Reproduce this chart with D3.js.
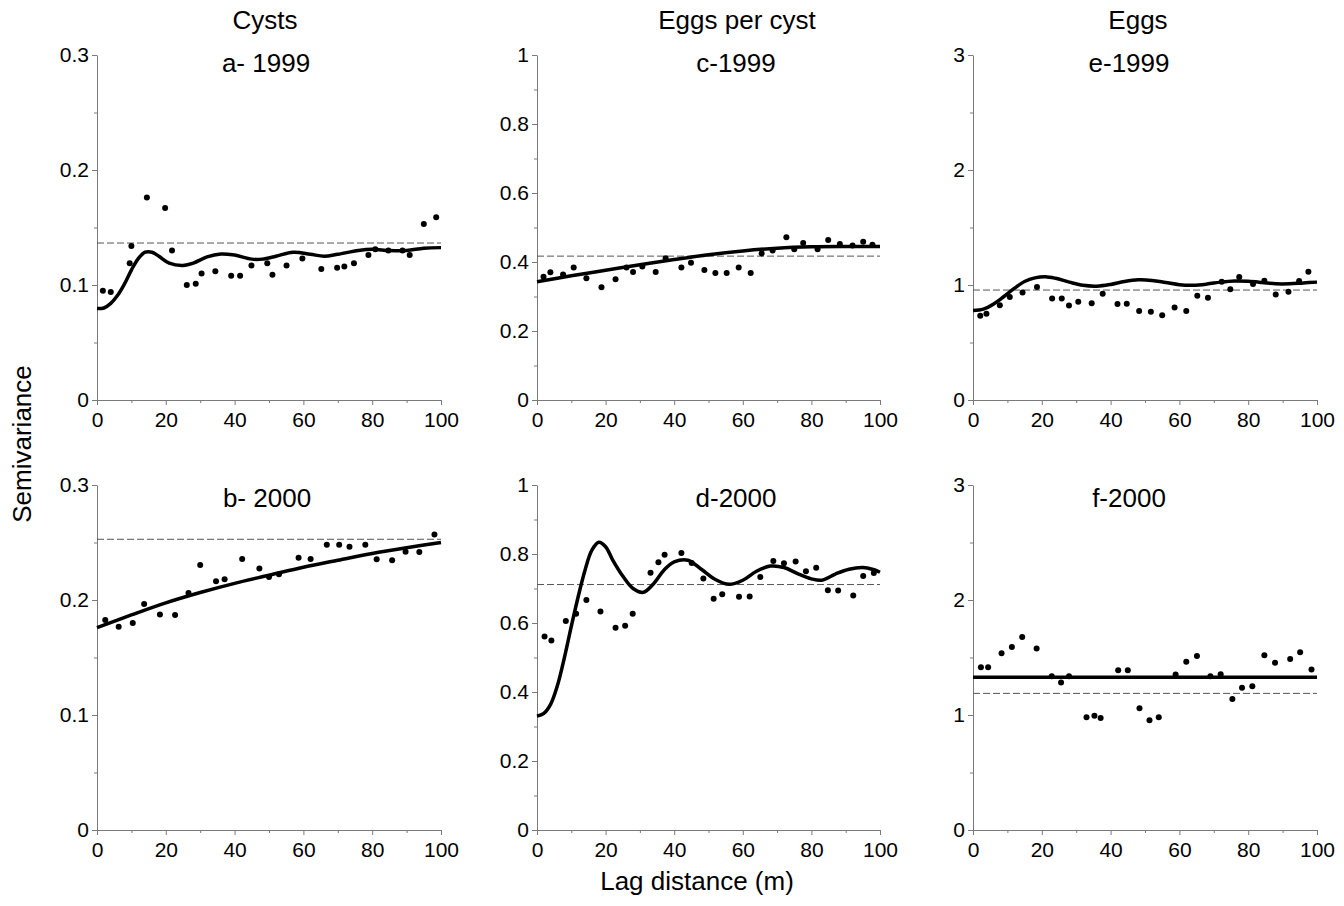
<!DOCTYPE html>
<html>
<head>
<meta charset="utf-8">
<script src="https://cdn.jsdelivr.net/npm/d3@7"></script>
<style>
  html, body { margin: 0; padding: 0; background: #fff; }
  svg { display: block; }
  text { font-family: "Liberation Sans", Arial, Helvetica, sans-serif; fill: #000; }
</style>
</head>
<body>
<div id="chart"></div>
<script>
// ---------------- DATA ----------------
const columnTitles = ["Cysts", "Eggs per cyst", "Eggs"];
const panelTitles = ["a- 1999", "b- 2000", "c-1999", "d-2000", "e-1999", "f-2000"];
const xTicks = [0, 20, 40, 60, 80, 100];
const xMinorTicks = [10, 30, 50, 70, 90];
const yTicksCysts = [0, 0.1, 0.2, 0.3];
const yMinorCysts = [0.05, 0.15, 0.25];
const yTicksEpc = [0, 0.2, 0.4, 0.6, 0.8, 1];
const yMinorEpc = [0.1, 0.3, 0.5, 0.7, 0.9];
const yTicksEggs = [0, 1, 2, 3];
const yMinorEggs = [0.5, 1.5, 2.5];

// a - Cysts 1999
const lagA = [1.7,4.0,9.5,10.0,14.5,19.8,21.8,26.1,28.7,30.4,34.4,39.0,41.6,44.9,49.5,51.0,55.1,59.7,65.2,69.8,71.9,74.7,78.9,80.9,84.7,88.8,90.9,95.0,98.6];
const gamA = [0.095,0.094,0.119,0.134,0.176,0.167,0.130,0.100,0.101,0.110,0.112,0.108,0.108,0.117,0.119,0.109,0.117,0.123,0.114,0.115,0.116,0.119,0.126,0.131,0.130,0.130,0.126,0.153,0.159];
const fitLagA = [0,2,4,6,8,10,12,14,16,18,21,25,28,32,36,40,45,48,52,57,62,66,70,76,80,85,90,95,100];
const fitA = [0.0795,0.080,0.084,0.091,0.101,0.113,0.123,0.1285,0.1285,0.125,0.119,0.117,0.119,0.1245,0.127,0.126,0.1225,0.1225,0.125,0.1285,0.1268,0.125,0.1267,0.130,0.131,0.130,0.130,0.132,0.1325];
const sillA = 0.1365;

// b - Cysts 2000
const lagB = [2.4,6.3,10.4,13.7,18.3,22.7,26.6,30.0,34.6,37.1,42.2,47.2,50.0,52.9,58.6,62.1,66.8,70.4,73.4,78.0,81.3,85.8,89.7,93.7,98.1];
const gamB = [0.1826,0.1768,0.180,0.1965,0.1875,0.187,0.206,0.2304,0.2162,0.218,0.2357,0.2275,0.220,0.2223,0.2368,0.2357,0.248,0.248,0.2464,0.248,0.2354,0.2345,0.242,0.2417,0.257];
const fitLagB = [0,10,20,30,40,50,60,70,80,90,100];
const fitB = [0.176,0.187,0.1975,0.2065,0.2145,0.2215,0.2285,0.2345,0.2405,0.2455,0.250];
const sillB = 0.2528;

// c - Eggs per cyst 1999
const lagC = [1.9,3.9,7.6,10.7,14.4,18.8,22.9,26.1,28.0,30.7,34.6,37.5,42.1,44.9,48.8,52.0,55.3,58.8,62.3,65.5,68.7,72.7,75.0,77.6,81.8,84.9,88.3,92.0,95.1,97.8];
const gamC = [0.357,0.370,0.364,0.384,0.353,0.327,0.350,0.384,0.371,0.387,0.371,0.411,0.384,0.398,0.377,0.368,0.368,0.384,0.368,0.425,0.433,0.472,0.437,0.455,0.437,0.464,0.452,0.448,0.459,0.450];
const fitLagC = [0,10,20,30,40,50,60,70,80,90,100];
const fitC = [0.343,0.360,0.376,0.392,0.407,0.421,0.432,0.440,0.444,0.445,0.445];
const sillC = 0.417;

// d - Eggs per cyst 2000
const lagD = [2.2,4.2,8.4,11.4,14.4,18.5,22.9,25.7,27.9,33.1,35.4,37.2,42.1,45.1,48.5,51.5,54.0,58.9,62.0,65.1,68.9,72.0,75.4,78.4,81.4,84.8,87.8,92.2,95.1,98.2];
const gamD = [0.561,0.549,0.606,0.627,0.667,0.633,0.586,0.592,0.627,0.746,0.776,0.798,0.803,0.774,0.729,0.670,0.683,0.676,0.677,0.733,0.780,0.773,0.778,0.750,0.760,0.695,0.694,0.680,0.736,0.745];
const fitLagD = [0,2,4,6,8,10,12,14,16,18,20,22,25,28,31,34,37,40,44,48,52,56,60,64,68,72,76,80,83,87,91,95,98,100];
const fitD = [0.330,0.338,0.365,0.420,0.500,0.590,0.676,0.753,0.811,0.834,0.821,0.784,0.736,0.700,0.689,0.714,0.753,0.777,0.782,0.755,0.726,0.712,0.724,0.750,0.765,0.761,0.743,0.728,0.724,0.742,0.756,0.761,0.755,0.747];
const sillD = 0.7115;

// e - Eggs 1999
const lagE = [2.1,3.9,7.8,10.7,14.4,18.6,23.0,25.8,27.9,30.6,34.5,37.7,42.0,44.7,48.3,51.7,55.0,58.6,62.0,65.2,68.3,72.3,74.8,77.4,81.4,84.7,88.0,91.7,94.8,97.5];
const gamE = [0.732,0.749,0.825,0.895,0.935,0.982,0.883,0.883,0.822,0.854,0.842,0.924,0.834,0.836,0.775,0.767,0.738,0.805,0.775,0.906,0.889,1.028,0.964,1.069,1.008,1.037,0.918,0.941,1.034,1.115];
const fitLagE = [0,3,6,9,12,15,18,21,24,28,32,36,40,44,48,52,56,60,64,68,72,76,80,84,88,92,96,100];
const fitE = [0.778,0.790,0.835,0.900,0.970,1.030,1.062,1.072,1.058,1.025,0.997,0.990,1.005,1.030,1.045,1.040,1.022,1.003,0.998,1.008,1.025,1.035,1.032,1.022,1.010,1.010,1.018,1.025];
const sillE = 0.956;

// f - Eggs 2000
const lagF = [2.3,4.4,8.3,11.3,14.3,18.5,22.9,25.6,27.9,33.0,35.3,37.1,42.2,45.0,48.4,51.3,54.0,58.9,62.0,65.1,69.0,72.0,75.4,78.2,81.2,84.7,87.8,92.2,95.1,98.4];
const gamF = [1.416,1.416,1.538,1.592,1.679,1.578,1.338,1.283,1.338,0.980,0.994,0.974,1.390,1.390,1.058,0.954,0.980,1.353,1.462,1.514,1.338,1.355,1.139,1.237,1.251,1.520,1.454,1.486,1.546,1.396];
const fitLagF = [0,100];
const fitF = [1.329,1.329];
const sillF = 1.188;

// ---------------- LAYOUT ----------------
const W = 1344, H = 906;
const colX = [[97, 441], [537, 880], [973, 1317]];
const rowY = [[400, 55], [830, 485]];

const panels = [
  {col:0,row:0,title:panelTitles[0],tx:266,lag:lagA,gam:gamA,fx:fitLagA,fy:fitA,sill:sillA,ymax:0.3,yt:yTicksCysts,ym:yMinorCysts},
  {col:0,row:1,title:panelTitles[1],tx:267,lag:lagB,gam:gamB,fx:fitLagB,fy:fitB,sill:sillB,ymax:0.3,yt:yTicksCysts,ym:yMinorCysts},
  {col:1,row:0,title:panelTitles[2],tx:736,lag:lagC,gam:gamC,fx:fitLagC,fy:fitC,sill:sillC,ymax:1,yt:yTicksEpc,ym:yMinorEpc},
  {col:1,row:1,title:panelTitles[3],tx:736,lag:lagD,gam:gamD,fx:fitLagD,fy:fitD,sill:sillD,ymax:1,yt:yTicksEpc,ym:yMinorEpc},
  {col:2,row:0,title:panelTitles[4],tx:1129,lag:lagE,gam:gamE,fx:fitLagE,fy:fitE,sill:sillE,ymax:3,yt:yTicksEggs,ym:yMinorEggs},
  {col:2,row:1,title:panelTitles[5],tx:1129,lag:lagF,gam:gamF,fx:fitLagF,fy:fitF,sill:sillF,ymax:3,yt:yTicksEggs,ym:yMinorEggs}
];
const headerX = [265, 737, 1138];

const svg = d3.select("#chart").append("svg")
  .attr("width", W).attr("height", H)
  .style("background", "#fff");

const axisColor = "#7a7a7a";

panels.forEach(p => {
  const x = d3.scaleLinear().domain([0, 100]).range(colX[p.col]);
  const y = d3.scaleLinear().domain([0, p.ymax]).range(rowY[p.row]);
  const g = svg.append("g");

  // minor ticks
  g.append("g").attr("transform", `translate(${x(0)},0)`)
    .call(d3.axisLeft(y).tickValues(p.ym).tickSize(3).tickFormat(""))
    .call(s => s.select(".domain").remove())
    .call(s => s.selectAll("line").attr("stroke", axisColor));
  g.append("g").attr("transform", `translate(0,${y(0)})`)
    .call(d3.axisBottom(x).tickValues(xMinorTicks).tickSize(3).tickFormat(""))
    .call(s => s.select(".domain").remove())
    .call(s => s.selectAll("line").attr("stroke", axisColor));

  // major y axis
  const ya = g.append("g").attr("transform", `translate(${x(0)},0)`)
    .call(d3.axisLeft(y).tickValues(p.yt).tickSize(5).tickSizeOuter(0).tickPadding(3)
      .tickFormat(d => String(d)));
  ya.select(".domain").attr("stroke", axisColor).attr("stroke-width", 1);
  ya.selectAll("line").attr("stroke", axisColor);
  ya.selectAll("text").style("font-size", "21px").attr("fill", "#000");

  // major x axis
  const xa = g.append("g").attr("transform", `translate(0,${y(0)})`)
    .call(d3.axisBottom(x).tickValues(xTicks).tickSize(5).tickSizeOuter(0).tickPadding(7)
      .tickFormat(d => String(d)));
  xa.select(".domain").attr("stroke", axisColor).attr("stroke-width", 1);
  xa.selectAll("line").attr("stroke", axisColor);
  xa.selectAll("text").style("font-size", "21px").attr("fill", "#000");

  // sill
  g.append("line")
    .attr("x1", x(0)).attr("x2", x(100))
    .attr("y1", y(p.sill)).attr("y2", y(p.sill))
    .attr("stroke", "#555").attr("stroke-width", 1)
    .attr("stroke-dasharray", "7,3");

  // fitted model
  const fitData = p.fx.map((v, i) => [v, p.fy[i]]);
  g.append("path")
    .datum(fitData)
    .attr("fill", "none")
    .attr("stroke", "#000")
    .attr("stroke-width", 3.5)
    .attr("stroke-linejoin", "round")
    .attr("d", d3.line().x(d => x(d[0])).y(d => y(d[1])).curve(d3.curveCatmullRom.alpha(0.5)));

  // experimental points
  g.selectAll("circle.pt")
    .data(p.lag.map((v, i) => [v, p.gam[i]]))
    .join("circle")
    .attr("class", "pt")
    .attr("cx", d => x(d[0]))
    .attr("cy", d => y(d[1]))
    .attr("r", 3)
    .attr("fill", "#000");

  // panel title
  g.append("text")
    .attr("x", p.tx)
    .attr("y", p.row === 0 ? 72 : 507)
    .attr("text-anchor", "middle")
    .style("font-size", "26px")
    .text(p.title);
});

// column headers
columnTitles.forEach((t, i) => {
  svg.append("text")
    .attr("x", headerX[i]).attr("y", 29)
    .attr("text-anchor", "middle")
    .style("font-size", "26px")
    .text(t);
});

// axis titles
svg.append("text")
  .attr("transform", "translate(31,444) rotate(-90)")
  .attr("text-anchor", "middle")
  .style("font-size", "26px")
  .text("Semivariance");

svg.append("text")
  .attr("x", 697).attr("y", 890)
  .attr("text-anchor", "middle")
  .style("font-size", "26px")
  .text("Lag distance (m)");
</script>
</body>
</html>
